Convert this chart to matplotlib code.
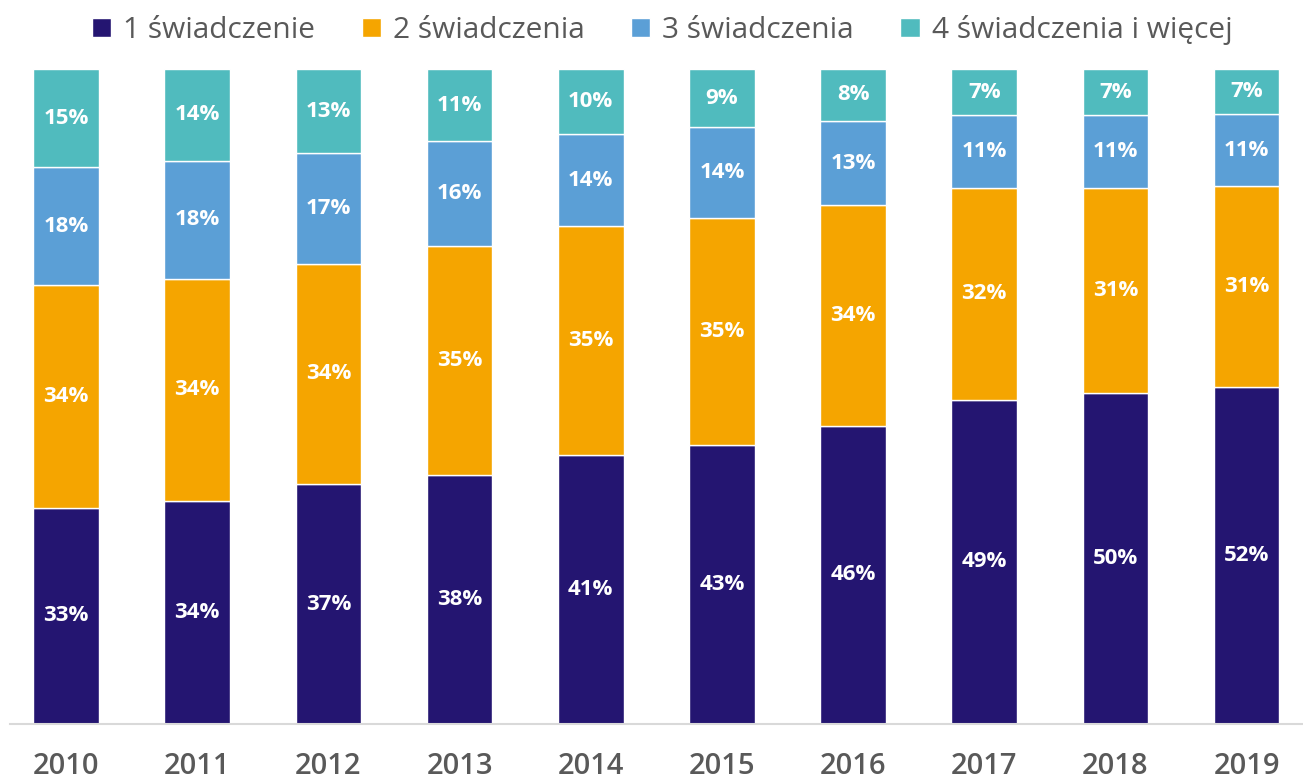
"""Struktura świadczeń 2010-2019 — stacked 100% columns."""
import numpy as np
import matplotlib
matplotlib.use("Agg")
import matplotlib.pyplot as plt

plt.rcParams["font.family"] = ["Open Sans", "DejaVu Sans"]

years = ["2010", "2011", "2012", "2013", "2014", "2015", "2016", "2017", "2018", "2019"]
series_names = ["1 świadczenie", "2 świadczenia", "3 świadczenia", "4 świadczenia i więcej"]
one = [33, 34, 37, 38, 41, 43, 46, 49, 50, 52]
two = [34, 34, 34, 35, 35, 35, 34, 32, 31, 31]
three = [18, 18, 17, 16, 14, 14, 13, 11, 11, 11]
four = [15, 14, 13, 11, 10, 9, 8, 7, 7, 7]

COLORS = ["#241571", "#F5A500", "#5B9FD6", "#50BBBE"]
TEXT = "#595959"

W, H = 1303, 782
fig = plt.figure(figsize=(W / 100, H / 100), dpi=100)
ax = fig.add_axes([10 / W, 1 - 724 / H, 1 - 10 / W, (724 - 69) / H])

vals = np.array([one, two, three, four], dtype=float)
share = vals / vals.sum(axis=0) * 100   # labels are rounded, bars fill to 100%
x = np.arange(len(years))
bottom = np.zeros(len(years))
for name, col, raw, s in zip(series_names, COLORS, vals, share):
    ax.bar(x, s, 0.5, bottom=bottom, color=col, edgecolor="white", linewidth=1,
           label=name)
    for xi, b, h, v in zip(x, bottom, s, raw):
        ax.text(xi, b + h / 2, f"{v:.0f}%", ha="center", va="center",
                color="white", fontsize=16, fontweight="bold")
    bottom += s

ax.set_xlim(-0.427, 9.43)
ax.set_ylim(0, 100)
for sp in ("top", "right", "left"):
    ax.spines[sp].set_visible(False)
ax.spines["bottom"].set_color("#D9D9D9")
ax.spines["bottom"].set_linewidth(1.5)
ax.set_yticks([])
ax.set_xticks(x, years)
ax.tick_params(axis="x", length=0, pad=20, labelsize=21, labelcolor=TEXT)
for t in ax.get_xticklabels():
    t.set_fontweight("semibold")

fig.legend(loc="center", bbox_to_anchor=(662 / W, 1 - 30 / H), ncol=4, frameon=False,
           fontsize=21.5, labelcolor=TEXT, handlelength=0.65, handleheight=0.65,
           handletextpad=0.4, columnspacing=1.55, borderpad=0)

fig.savefig("out.png", dpi=100)
